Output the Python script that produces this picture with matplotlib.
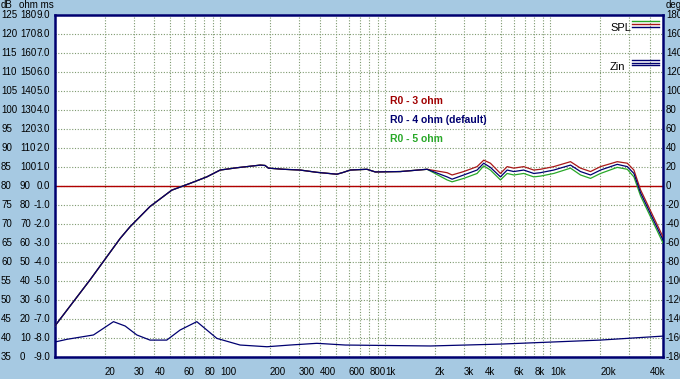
import matplotlib.pyplot as plt
from matplotlib import transforms

plt.rcParams["font.family"] = ["Liberation Sans", "DejaVu Sans"]

# Frequency response, common part (all R0 values overlap below ~2 kHz)
freq_common = [10, 16.3, 24.8, 28.5, 37.6, 50.9, 65.8, 83, 100, 126, 175, 187, 196,
               242, 305, 385, 509, 558, 613, 774, 869, 1233, 1790]
spl_common = [43.2, 55.3, 66.2, 69.3, 74.6, 78.9, 80.7, 82.4, 84.2, 84.8, 85.5, 85.4, 84.7,
              84.4, 84.2, 83.6, 83.1, 83.6, 84.2, 84.4, 83.7, 83.8, 84.4]

# Upper range, one series per R0 value
freq_hf = [2366, 2537, 2983, 3594, 3944, 4328, 4977, 5466, 5996, 6887, 7920, 8690,
           10470, 13220, 15200, 17470, 20090, 25360, 29170, 31990, 35100, 48000]
spl_r3 = [83.5, 82.9, 83.8, 85.1, 86.8, 86.0, 83.3, 85.1, 84.7, 85.1, 84.2, 84.4,
          85.1, 86.4, 84.7, 83.8, 85.1, 86.4, 86.0, 84.2, 79.0, 66.6]
spl_r4 = [82.4, 81.8, 82.9, 84.2, 86.0, 84.9, 82.4, 84.2, 83.8, 84.2, 83.3, 83.5,
          84.2, 85.5, 83.8, 82.9, 84.2, 85.7, 85.1, 83.3, 78.2, 65.8]
spl_r5 = [81.6, 81.1, 82.0, 83.3, 85.3, 84.2, 81.6, 83.3, 82.9, 83.3, 82.4, 82.6,
          83.3, 84.7, 82.9, 82.0, 83.3, 84.9, 84.4, 82.4, 77.4, 65.0]

# Input impedance (ohm)
freq_z = [10, 11.8, 17.1, 22.6, 26.6, 31.3, 37.6, 47.5, 57.2, 72.2, 95.5, 132, 192,
          265, 385, 572, 1875, 5000, 20000, 48000]
zin = [7.9, 9.3, 11.6, 18.6, 16.3, 11.6, 8.9, 8.9, 14.2, 18.6, 9.8, 6.3, 5.4,
       6.3, 7.2, 6.3, 5.8, 6.8, 8.9, 11.0]

# Axis labels
grid_freqs = [20, 30, 40, 50, 60, 70, 80, 90, 100, 200, 300, 400, 500, 600, 700, 800, 900,
              1000, 2000, 3000, 4000, 5000, 6000, 7000, 8000, 9000, 10000, 20000, 30000, 40000]
xlabel_freqs = [20, 30, 40, 60, 80, 100, 200, 300, 400, 600, 800, 1000, 2000, 3000,
                4000, 6000, 8000, 10000, 20000, 40000]
xlabel_text = ["20", "30", "40", "60", "80", "100", "200", "300", "400", "600", "800",
               "1k", "2k", "3k", "4k", "6k", "8k", "10k", "20k", "40k"]
db_ticks = [125, 120, 115, 110, 105, 100, 95, 90, 85, 80, 75, 70, 65, 60, 55, 50, 45, 40, 35]
ohm_ticks = ["180", "170", "160", "150", "140", "130", "120", "110", "100", "90", "80", "70",
             "60", "50", "40", "30", "20", "10", "0"]
ms_ticks = ["9.0", "8.0", "7.0", "6.0", "5.0", "4.0", "3.0", "2.0", "1.0", "0.0", "-1.0",
            "-2.0", "-3.0", "-4.0", "-5.0", "-6.0", "-7.0", "-8.0", "-9.0"]
deg_ticks = ["180", "160", "140", "120", "100", "80", "60", "40", "20", "0", "-20", "-40",
             "-60", "-80", "-100", "-120", "-140", "-160", "-180"]

BG = "#a6c9e2"
NAVY = "#000070"
RED = "#a81818"
GREEN = "#28a828"
GRID = "#7f9a70"

W, H = 680, 379
fig = plt.figure(figsize=(W / 100, H / 100), dpi=100, facecolor=BG)
ax = fig.add_axes([55 / W, 22 / H, 608 / W, 342 / H])
ax.set_facecolor("white")
ax.set_xscale("log")
ax.set_xlim(10, 48000)
ax.set_ylim(35, 125)
ax.set_xticks(grid_freqs)
ax.xaxis.set_minor_locator(plt.NullLocator())
ax.set_xticklabels([])
ax.set_yticks(db_ticks)
ax.set_yticklabels([])
ax.tick_params(length=0)
ax.grid(True, color=GRID, linestyle=(0, (1, 1.5)), linewidth=0.8)
for s in ax.spines.values():
    s.set_color(NAVY)
    s.set_linewidth(1.8)

ax.axhline(80, color="#b00000", linewidth=1.0, zorder=2)

# impedance on its own scale (0..180 ohm)
axz = ax.twinx()
axz.set_ylim(0, 180)
axz.axis("off")
axz.plot(freq_z, zin, color=NAVY, linewidth=0.9)

ax.plot(freq_common + freq_hf, spl_common + spl_r5, color=GREEN, linewidth=0.9, zorder=3)
ax.plot(freq_common + freq_hf, spl_common + spl_r3, color=RED, linewidth=0.9, zorder=3)
ax.plot(freq_common + freq_hf, spl_common + spl_r4, color=NAVY, linewidth=0.9, zorder=4)

# left / right scale labels
lab = transforms.blended_transform_factory(fig.transFigure, ax.transData)
fs = 7
for db, om, ms, dg in zip(db_ticks, ohm_ticks, ms_ticks, deg_ticks):
    fig.text(1 / W, db, str(db), transform=lab, fontsize=fs, va="center", ha="left")
    fig.text(20 / W, db, om, transform=lab, fontsize=fs, va="center", ha="left")
    fig.text(50 / W, db, ms, transform=lab, fontsize=fs, va="center", ha="right")
    fig.text(666 / W, db, dg, transform=lab, fontsize=fs, va="center", ha="left")
fig.text(1 / W, 1 - 5 / H, "dB", fontsize=fs, va="center", ha="left")
fig.text(19 / W, 1 - 5 / H, "ohm ms", fontsize=fs, va="center", ha="left")
fig.text(666 / W, 1 - 5 / H, "deg", fontsize=fs, va="center", ha="left")

# frequency labels below the plot
flab = transforms.blended_transform_factory(ax.transData, fig.transFigure)
for f, t in zip(xlabel_freqs, xlabel_text):
    ax.text(f, 7 / H, t, transform=flab, fontsize=fs, va="center", ha="left", clip_on=False)

# legend keys
ax.text(0.913, 0.962, "SPL", transform=ax.transAxes, fontsize=8, va="center", ha="left")
ax.text(0.913, 0.848, "Zin", transform=ax.transAxes, fontsize=8, va="center", ha="left")
for c, yy in zip([GREEN, RED, NAVY], [0.981, 0.974, 0.966]):
    ax.plot([0.949, 0.993], [yy, yy], transform=ax.transAxes, color=c, linewidth=1)
for c, yy in zip([NAVY, NAVY, NAVY], [0.869, 0.861, 0.853]):
    ax.plot([0.949, 0.993], [yy, yy], transform=ax.transAxes, color=c, linewidth=1)

# series annotations
ax.text(0.551, 0.749, "R0 - 3 ohm", transform=ax.transAxes, color="#a00000",
        fontsize=7.5, fontweight="bold", va="center")
ax.text(0.551, 0.693, "R0 - 4 ohm (default)", transform=ax.transAxes, color=NAVY,
        fontsize=7.5, fontweight="bold", va="center")
ax.text(0.551, 0.637, "R0 - 5 ohm", transform=ax.transAxes, color=GREEN,
        fontsize=7.5, fontweight="bold", va="center")

fig.savefig("out.png", dpi=100, facecolor=BG)
